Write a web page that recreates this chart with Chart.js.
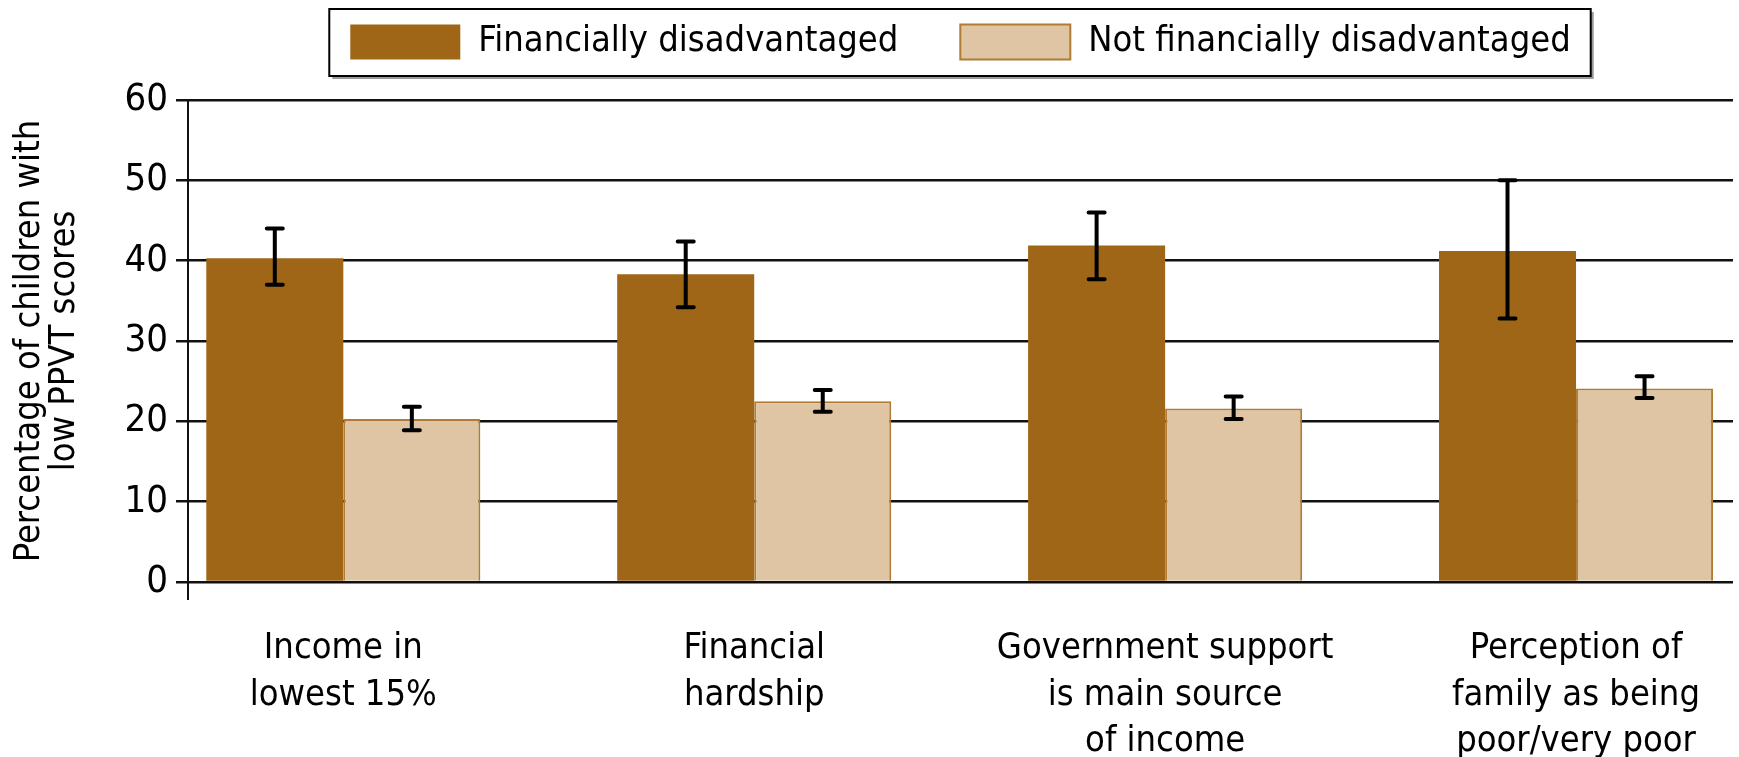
<!DOCTYPE html>
<html>
<head>
<meta charset="utf-8">
<script src="https://cdn.jsdelivr.net/npm/chart.js@4.4.1/dist/chart.umd.min.js"></script>
<style>
html, body { margin: 0; padding: 0; background: #fff; }
#wrap { width: 1739px; height: 757px; }
</style>
</head>
<body>
<div id="wrap"><canvas id="myChart"></canvas></div>
<script>
var categories = [
    ['Income in', 'lowest 15%'],
    ['Financial', 'hardship'],
    ['Government support', 'is main source', 'of income'],
    ['Perception of', 'family as being', 'poor/very poor']
];
var seriesNames = ['Financially disadvantaged', 'Not financially disadvantaged'];
var finValues = [40.3, 38.3, 41.9, 41.2];
var finLow = [37.0, 34.2, 37.7, 32.8];
var finHigh = [44.0, 42.4, 46.0, 50.0];
var notFinValues = [20.3, 22.5, 21.6, 24.1];
var notFinLow = [18.9, 21.2, 20.3, 22.9];
var notFinHigh = [21.8, 23.9, 23.1, 25.6];
var yTicks = [0, 10, 20, 30, 40, 50, 60];

var FONT = "'DejaVu Sans Condensed', 'DejaVu Sans', sans-serif";

function toPoints(values) {
    var pts = [];
    for (var i = 0; i < values.length; i++) {
        pts[i] = { x: i, y: values[i] };
    }
    return pts;
}

// error bars drawn on top of the bars
var errorBars = {
    id: 'errorBars',
    afterDatasetsDraw: function(chart) {
        var ctx = chart.ctx;
        var yScale = chart.scales.y;
        var lows = [finLow, notFinLow];
        var highs = [finHigh, notFinHigh];
        ctx.save();
        ctx.strokeStyle = '#000';
        ctx.lineWidth = 4;
        ctx.lineCap = 'round';
        for (var d = 0; d < 2; d++) {
            var meta = chart.getDatasetMeta(d);
            meta.data.forEach(function(bar, i) {
                var top = yScale.getPixelForValue(highs[d][i]);
                var bot = yScale.getPixelForValue(lows[d][i]);
                ctx.beginPath();
                ctx.moveTo(bar.x, top);
                ctx.lineTo(bar.x, bot);
                ctx.moveTo(bar.x - 8, top);
                ctx.lineTo(bar.x + 8, top);
                ctx.moveTo(bar.x - 8, bot);
                ctx.lineTo(bar.x + 8, bot);
                ctx.stroke();
            });
        }
        ctx.restore();
    }
};

// framed legend with a little shadow, and the axis stub below zero
var frames = {
    id: 'frames',
    beforeDraw: function(chart) {
        var hb = chart.legend.legendHitBoxes;
        if (!hb || !hb.length) return;
        var left = hb[0].left - 21;
        var right = hb[hb.length - 1].left + hb[hb.length - 1].width + 20;
        var cy = hb[0].top + hb[0].height / 2;
        var top = cy - 33;
        var h = 67;
        var ctx = chart.ctx;
        ctx.save();
        ctx.fillStyle = '#9a9a9a';
        ctx.fillRect(left + 3, top + 3, right - left, h);
        ctx.fillStyle = '#fff';
        ctx.fillRect(left, top, right - left, h);
        ctx.strokeStyle = '#000';
        ctx.lineWidth = 2;
        ctx.strokeRect(left, top, right - left, h);
        ctx.restore();
    },
    afterDraw: function(chart) {
        var ctx = chart.ctx;
        var a = chart.chartArea;
        ctx.save();
        ctx.strokeStyle = '#111';
        ctx.lineWidth = 2;
        ctx.beginPath();
        ctx.moveTo(a.left, a.bottom);
        ctx.lineTo(a.left, a.bottom + 18);
        ctx.stroke();
        ctx.restore();
    }
};

var ctx = document.getElementById('myChart').getContext('2d');
var chart = new Chart(ctx, {
    type: 'bar',
    data: {
        datasets: [{
            label: seriesNames[0],
            data: toPoints(finValues),
            backgroundColor: '#9E6616',
            borderColor: '#9E6616',
            borderWidth: 0
        }, {
            label: seriesNames[1],
            data: toPoints(notFinValues),
            backgroundColor: '#DFC5A4',
            borderColor: '#B07B33',
            borderWidth: 2
        }]
    },
    plugins: [errorBars, frames],
    options: {
        responsive: true,
        maintainAspectRatio: false,
        animation: false,
        categoryPercentage: 0.667,
        barPercentage: 1.0,
        layout: { padding: { top: -38, right: 6, left: 0, bottom: 0 } },
        plugins: {
            tooltip: { enabled: false },
            legend: {
                position: 'top',
                fullSize: false,
                weight: 3000,
                labels: {
                    color: '#000',
                    font: { family: FONT, size: 36 },
                    boxWidth: 110,
                    boxHeight: 35,
                    padding: 62
                }
            },
            // empty spacer between the legend and the plot
            title: {
                display: true,
                text: '',
                padding: { top: 0, bottom: 10 },
                font: { size: 20, lineHeight: 1 }
            }
        },
        scales: {
            x: {
                type: 'linear',
                offset: false,
                min: -0.378,
                max: 3.382,
                grid: { display: false },
                border: { display: false },
                afterBuildTicks: function(scale) {
                    scale.ticks = categories.map(function(c, i) { return { value: i }; });
                },
                afterFit: function(scale) { scale.height = 175; },
                ticks: {
                    color: '#000',
                    padding: 35,
                    autoSkip: false,
                    maxRotation: 0,
                    font: { family: FONT, size: 36, lineHeight: 1.3 },
                    callback: function(value) { return categories[Math.round(value)]; }
                }
            },
            y: {
                min: 0,
                max: 60,
                afterBuildTicks: function(scale) {
                    scale.ticks = yTicks.map(function(v) { return { value: v }; });
                },
                afterFit: function(scale) { scale.width = 188; },
                grid: { color: '#111', lineWidth: 2.5, tickLength: 12 },
                border: { display: true, color: '#111', width: 2 },
                ticks: {
                    color: '#000',
                    padding: 8,
                    font: { family: FONT, size: 38 }
                },
                title: {
                    display: true,
                    text: ['Percentage of children with', 'low PPVT scores'],
                    color: '#000',
                    padding: { top: 13, bottom: 0 },
                    font: { family: FONT, size: 36, lineHeight: 0.95 }
                }
            }
        }
    }
});
</script>
</body>
</html>
